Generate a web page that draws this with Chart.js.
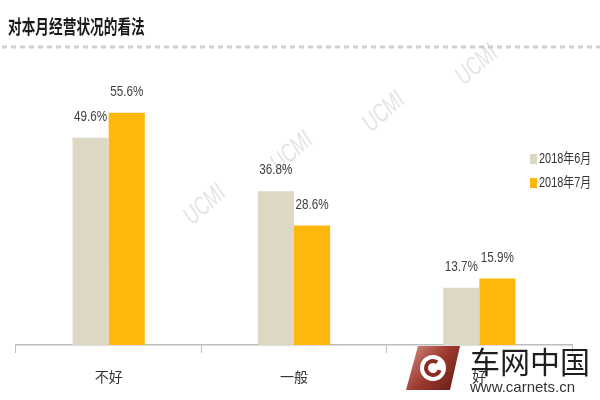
<!DOCTYPE html>
<html>
<head>
<meta charset="utf-8">
<script src="https://cdn.jsdelivr.net/npm/chart.js@4/dist/chart.umd.min.js"></script>
<style>
  html, body { margin: 0; padding: 0; background: #fff; }
  #wrap { width: 600px; height: 400px; position: relative; }
</style>
</head>
<body>
<div id="wrap"><canvas id="chart" width="600" height="400"></canvas></div>
<script>
// chart data
const categories = ['不好', '一般', '好'];
const seriesNames = ['2018年6月', '2018年7月'];
const june = [49.6, 36.8, 13.7];
const july = [55.6, 28.6, 15.9];
const colors = ['#ddd8c4', '#fdb70d'];
const chartTitle = '对本月经营状况的看法';

const sans = "'Liberation Sans', 'Noto Sans CJK SC', sans-serif";

// draw text squeezed horizontally (the original uses a narrow font)
function narrowText(ctx, text, x, y, squeeze) {
    ctx.save();
    ctx.translate(x, y);
    ctx.scale(squeeze, 1);
    ctx.fillText(text, 0, 0);
    ctx.restore();
}

const decorPlugin = {
    id: 'decor',
    beforeDraw(chart) {
        const ctx = chart.ctx;
        ctx.save();
        // title and dashed rule
        ctx.fillStyle = '#1a1a1a';
        ctx.font = "bold 19px 'Noto Sans CJK SC', sans-serif";
        ctx.textAlign = 'left';
        ctx.textBaseline = 'middle';
        narrowText(ctx, chartTitle, 8, 27, 0.72);

        ctx.strokeStyle = '#cfcfcf';
        ctx.lineWidth = 3;
        ctx.setLineDash([5, 4]);
        ctx.beginPath();
        ctx.moveTo(2, 47);
        ctx.lineTo(600, 47);
        ctx.stroke();
        ctx.setLineDash([]);

        // watermarks
        ctx.fillStyle = 'rgba(205,205,205,0.55)';
        ctx.font = 'italic 26px ' + sans;
        ctx.textAlign = 'center';
        [[477, 65], [384, 112], [292, 152], [205, 205], [118, 245]].forEach(function(p) {
            ctx.save();
            ctx.translate(p[0], p[1]);
            ctx.rotate(-0.72);
            ctx.scale(0.7, 1);
            ctx.fillText('UCMI', 0, 0);
            ctx.restore();
        });
        ctx.restore();
    },
    afterDatasetsDraw(chart) {
        const ctx = chart.ctx;
        ctx.save();
        ctx.font = '15px ' + sans;
        ctx.fillStyle = '#404040';
        ctx.textAlign = 'center';
        ctx.textBaseline = 'middle';
        chart.data.datasets.forEach(function(ds, i) {
            chart.getDatasetMeta(i).data.forEach(function(bar, j) {
                narrowText(ctx, ds.data[j].toFixed(1) + '%', bar.x, bar.y - 21, 0.78);
            });
        });

        // legend
        ctx.textAlign = 'left';
        ctx.font = '14px ' + sans;
        seriesNames.forEach(function(name, i) {
            const y = 159 + i * 24;
            ctx.fillStyle = colors[i];
            ctx.fillRect(530, y - 5, 7, 10);
            ctx.fillStyle = '#333';
            narrowText(ctx, name, 539, y, 0.78);
        });
        ctx.restore();
    },
    afterDraw(chart) {
        const ctx = chart.ctx;
        ctx.save();
        // site logo
        const g = ctx.createLinearGradient(405, 345, 460, 390);
        g.addColorStop(0, '#d9948a');
        g.addColorStop(0.5, '#9e3a30');
        g.addColorStop(1, '#5e1a14');
        ctx.fillStyle = g;
        ctx.beginPath();
        ctx.moveTo(418, 346);
        ctx.lineTo(460, 346);
        ctx.lineTo(450, 390);
        ctx.lineTo(406, 390);
        ctx.closePath();
        ctx.fill();
        ctx.fillStyle = '#fff';
        ctx.beginPath();
        ctx.arc(433, 368, 13, 0, Math.PI * 2);
        ctx.fill();
        ctx.strokeStyle = '#8a2c24';
        ctx.lineWidth = 4;
        ctx.beginPath();
        ctx.arc(433, 368, 7, 0.3, Math.PI * 1.7);
        ctx.stroke();

        ctx.fillStyle = '#1e1e1e';
        ctx.textAlign = 'left';
        ctx.textBaseline = 'alphabetic';
        ctx.font = "30px 'Noto Sans CJK SC', sans-serif";
        ctx.fillText('车网中国', 470, 373);
        ctx.font = "15px 'Liberation Sans', Arial, sans-serif";
        ctx.fillStyle = '#333';
        ctx.fillText('www.carnets.cn', 470, 392);
        ctx.restore();
    }
};

new Chart(document.getElementById('chart'), {
    type: 'bar',
    data: {
        labels: categories,
        datasets: [{
            label: seriesNames[0],
            data: june,
            backgroundColor: colors[0],
            borderWidth: 0,
            categoryPercentage: 0.39,
            barPercentage: 1.0
        }, {
            label: seriesNames[1],
            data: july,
            backgroundColor: colors[1],
            borderWidth: 0,
            categoryPercentage: 0.39,
            barPercentage: 1.0
        }]
    },
    options: {
        responsive: false,
        animation: false,
        layout: {
            padding: { left: 16, right: 28, top: 86, bottom: 0 }
        },
        plugins: {
            legend: { display: false },
            tooltip: { enabled: false }
        },
        scales: {
            y: {
                display: false,
                min: 0,
                max: 62
            },
            x: {
                afterFit: function(scale) { scale.height = 55; },
                border: { display: true, color: '#bdbdbd', width: 1.5 },
                grid: {
                    display: true,
                    drawOnChartArea: false,
                    drawTicks: true,
                    tickLength: 8,
                    color: '#bdbdbd'
                },
                ticks: {
                    color: '#333',
                    padding: 15,
                    font: { family: "'Noto Sans CJK SC', sans-serif", size: 14 }
                }
            }
        }
    },
    plugins: [decorPlugin]
});
</script>
</body>
</html>
